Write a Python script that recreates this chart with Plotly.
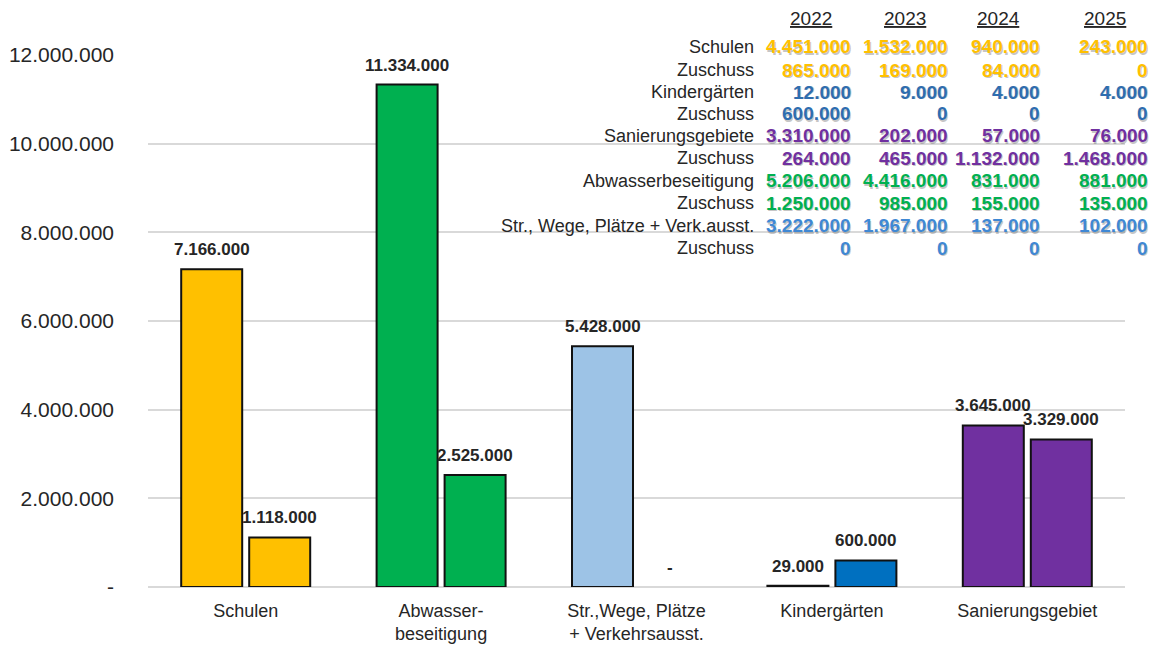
"""Investitionen und Zuschüsse nach Bereichen, Plotly-Nachbau."""

import plotly.graph_objects as go

FONT = "Liberation Sans, Arial, sans-serif"
GRID = "#d9d9d9"
TEXT = "#262626"

# Balken: Summe der Investitionen und Zuschuss je Bereich
categories = [
    "Schulen",
    "Abwasser-<br>beseitigung",
    "Str.,Wege, Plätze<br>+ Verkehrsausst.",
    "Kindergärten",
    "Sanierungsgebiet",
]
investitionen = [7166000, 11334000, 5428000, 29000, 3645000]
zuschuss = [1118000, 2525000, 0, 600000, 3329000]
bar_colors_inv = ["#FFC000", "#00B050", "#9DC3E6", "#0070C0", "#7030A0"]
bar_colors_zus = ["#FFC000", "#00B050", "#9DC3E6", "#0070C0", "#7030A0"]

y_ticks = [0, 2000000, 4000000, 6000000, 8000000, 10000000, 12000000]

# Tabelle oben rechts
years = ["2022", "2023", "2024", "2025"]
row_labels = [
    "Schulen", "Zuschuss",
    "Kindergärten", "Zuschuss",
    "Sanierungsgebiete", "Zuschuss",
    "Abwasserbeseitigung", "Zuschuss",
    "Str., Wege, Plätze + Verk.ausst.", "Zuschuss",
]
schulen_row = [4451000, 1532000, 940000, 243000]
schulen_zus_row = [865000, 169000, 84000, 0]
kita_row = [12000, 9000, 4000, 4000]
kita_zus_row = [600000, 0, 0, 0]
sanierung_row = [3310000, 202000, 57000, 76000]
sanierung_zus_row = [264000, 465000, 1132000, 1468000]
abwasser_row = [5206000, 4416000, 831000, 881000]
abwasser_zus_row = [1250000, 985000, 155000, 135000]
strassen_row = [3222000, 1967000, 137000, 102000]
strassen_zus_row = [0, 0, 0, 0]
table_rows = [
    schulen_row, schulen_zus_row, kita_row, kita_zus_row,
    sanierung_row, sanierung_zus_row, abwasser_row, abwasser_zus_row,
    strassen_row, strassen_zus_row,
]
row_colors = [
    "#FFC000", "#FFC000", "#2E6DB0", "#2E6DB0", "#7030A0",
    "#7030A0", "#00B050", "#00B050", "#3F88D4", "#3F88D4",
]


def de(v):
    return f"{v:,.0f}".replace(",", ".")


def de_dash(v):
    return "-" if v == 0 else de(v)


# the page body has an 8px margin, so the figure sits at (8, 8)
OFF = 8
W, H = 1160 - OFF, 646 - OFF
L, R, T, B = 148 - OFF, 35, 55 - OFF, 59
PW, PH = W - L - R, H - T - B
BARGAP, GROUPGAP = 0.304, 0.103
# half a bar slot in px, to put value labels over each bar of a pair
SLOT_SHIFT = PW / len(categories) * (1 - BARGAP) / 4


def px_x(x):
    return (x - OFF - L) / PW


def px_y(y):
    return (H - B - (y - OFF)) / PH


fig = go.Figure()
annotations = []
for i, (name, vals, colors) in enumerate([
    ("Investitionen", investitionen, bar_colors_inv),
    ("Zuschuss", zuschuss, bar_colors_zus),
]):
    fig.add_trace(go.Bar(
        x=categories, y=vals, name=name,
        marker=dict(
            color=colors,
            line=dict(color="#111111", width=[0 if v == 0 else 2 for v in vals]),
        ),
    ))
    for cat, v in zip(categories, vals):
        annotations.append(dict(
            x=cat, y=v, xref="x", yref="y", text=de_dash(v), showarrow=False,
            xanchor="center", yanchor="bottom",
            xshift=SLOT_SHIFT * (1 if i else -1), yshift=8,
            font=dict(size=17, color=TEXT, family=FONT, weight="bold"),
        ))


def add_text(x, y, text, color, size, bold=False, anchor="right", shadow=False):
    weight = "bold" if bold else "normal"
    if shadow:
        annotations.append(dict(
            x=px_x(x + 1), y=px_y(y + 1), xref="paper", yref="paper",
            text=text, showarrow=False, xanchor=anchor, yanchor="middle",
            font=dict(size=size, color="rgba(90,90,90,0.35)", family=FONT, weight=weight),
        ))
    annotations.append(dict(
        x=px_x(x), y=px_y(y), xref="paper", yref="paper",
        text=text, showarrow=False, xanchor=anchor, yanchor="middle",
        font=dict(size=size, color=color, family=FONT, weight=weight),
    ))


year_x = [811, 905, 998, 1105]
col_right = [853, 950, 1042, 1150]
row_y = [47, 70, 92, 114, 136, 158, 181, 203, 226, 248]

for yr, x in zip(years, year_x):
    add_text(x, 19, f"<u>{yr}</u>", TEXT, 19, anchor="center")

for label, vals, color, y in zip(row_labels, table_rows, row_colors, row_y):
    add_text(756, y, label, TEXT, 18)
    for v, x in zip(vals, col_right):
        add_text(x, y, de(v), color, 19, bold=True, shadow=True)

fig.update_layout(
    width=W, height=H,
    margin=dict(l=L, r=R, t=T, b=B, autoexpand=False),
    paper_bgcolor="white", plot_bgcolor="white",
    font=dict(family=FONT, color=TEXT),
    barmode="group", bargap=BARGAP, bargroupgap=GROUPGAP,
    showlegend=False,
    annotations=annotations,
)
fig.update_xaxes(
    showline=False, showgrid=False, ticks="", automargin=False,
    tickfont=dict(size=18, color=TEXT), ticklabelstandoff=11,
)
fig.update_yaxes(
    range=[0, 12000000], tickvals=y_ticks, ticktext=[de_dash(v) for v in y_ticks],
    showgrid=True, gridcolor=GRID, gridwidth=1.5, automargin=False,
    zeroline=True, zerolinecolor=GRID, zerolinewidth=1.5,
    showline=False, tickfont=dict(size=21, color=TEXT), ticklabelstandoff=33,
)

fig.write_html("out.html")
